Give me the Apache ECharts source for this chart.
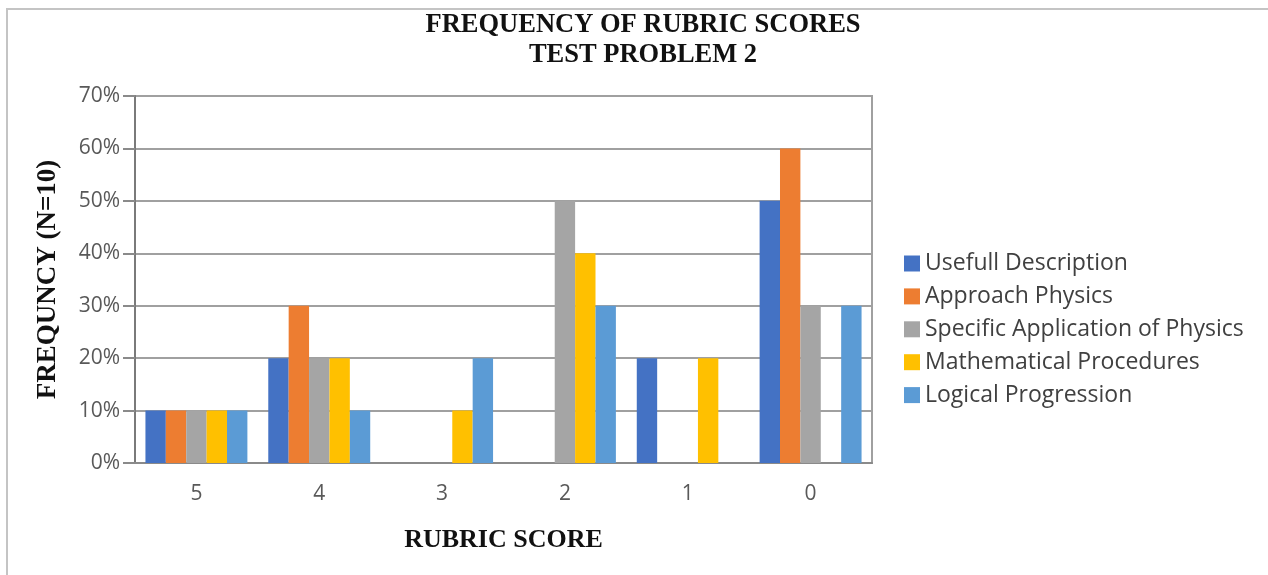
<!DOCTYPE html>
<html>
<head>
<meta charset="utf-8">
<script src="https://cdn.jsdelivr.net/npm/echarts@6/dist/echarts.min.js"></script>
<style>
  html, body { margin: 0; padding: 0; background: #fff; }
  #frame { position: absolute; left: 6px; top: 8px; width: 1262px; height: 567px;
           border-top: 2px solid #c4c4c4; border-left: 2px solid #c4c4c4; box-sizing: border-box; }
  #chart { position: absolute; left: 0; top: 0; width: 1268px; height: 575px; }
</style>
</head>
<body>
<div id="frame"></div>
<div id="chart"></div>
<script>
// Rubric scores (x axis, highest first) and share of students per criterion (%)
const scores = ['5', '4', '3', '2', '1', '0'];
const usefullDescription   = [10, 20, 0, 0, 20, 50];
const approachPhysics      = [10, 30, 0, 0, 0, 60];
const specificApplication  = [10, 20, 0, 50, 0, 30];
const mathProcedures       = [10, 20, 10, 40, 20, 0];
const logicalProgression   = [10, 10, 20, 30, 0, 30];
const yTicks = [0, 10, 20, 30, 40, 50, 60, 70];

const seriesDefs = [
  { name: 'Usefull Description', data: usefullDescription, color: '#4472C4' },
  { name: 'Approach Physics', data: approachPhysics, color: '#ED7D31' },
  { name: 'Specific Application of Physics', data: specificApplication, color: '#A5A5A5' },
  { name: 'Mathematical Procedures', data: mathProcedures, color: '#FFC000' },
  { name: 'Logical Progression', data: logicalProgression, color: '#5B9BD5' }
];

const sans = '"Open Sans", sans-serif';
const serif = '"Liberation Serif", "Times New Roman", serif';

const chart = echarts.init(document.getElementById('chart'), null, { renderer: 'canvas' });
chart.setOption({
  animation: false,
  title: {
    text: 'FREQUENCY OF RUBRIC SCORES\nTEST PROBLEM 2',
    left: 638, top: 5, textAlign: 'center',
    textStyle: { fontFamily: serif, fontWeight: 'bold', fontSize: 26.5, lineHeight: 30, color: '#111' }
  },
  legend: {
    orient: 'vertical', left: 899, top: 247,
    itemWidth: 16, itemHeight: 16, itemGap: 9.9,
    icon: 'rect',
    textStyle: { fontFamily: sans, fontSize: 23, color: '#404040' },
    data: seriesDefs.map(s => s.name)
  },
  grid: {
    left: 135, right: 396, top: 96, bottom: 112,
    show: true, borderColor: '#a0a0a0', borderWidth: 2, containLabel: false
  },
  xAxis: {
    type: 'category', data: scores,
    name: 'RUBRIC SCORE', nameLocation: 'middle', nameGap: 64,
    nameTextStyle: { fontFamily: serif, fontWeight: 'bold', fontSize: 26, color: '#111' },
    axisLine: { lineStyle: { color: '#8a8a8a', width: 2 } },
    axisTick: { show: false },
    axisLabel: { fontFamily: sans, fontSize: 21, color: '#595959', margin: 21 }
  },
  yAxis: {
    type: 'value', min: 0, max: 70, interval: 10,
    name: 'FREQUNCY (N=10)', nameLocation: 'middle', nameGap: 73, nameRotate: 90,
    nameTextStyle: { fontFamily: serif, fontWeight: 'bold', fontSize: 27, color: '#111' },
    axisLine: { show: true, lineStyle: { color: '#7a7a7a', width: 2 } },
    axisTick: { show: true, length: 12, lineStyle: { color: '#8a8a8a', width: 2 } },
    axisLabel: {
      fontFamily: sans, fontSize: 21, color: '#595959', margin: 15,
      formatter: v => (yTicks.includes(v) ? v + '%' : '')
    },
    splitLine: { lineStyle: { color: '#a0a0a0', width: 2 } }
  },
  series: seriesDefs.map(s => ({
    name: s.name, type: 'bar', data: s.data,
    barGap: '0%', barCategoryGap: '17%',
    itemStyle: { color: s.color }
  }))
});
</script>
</body>
</html>
